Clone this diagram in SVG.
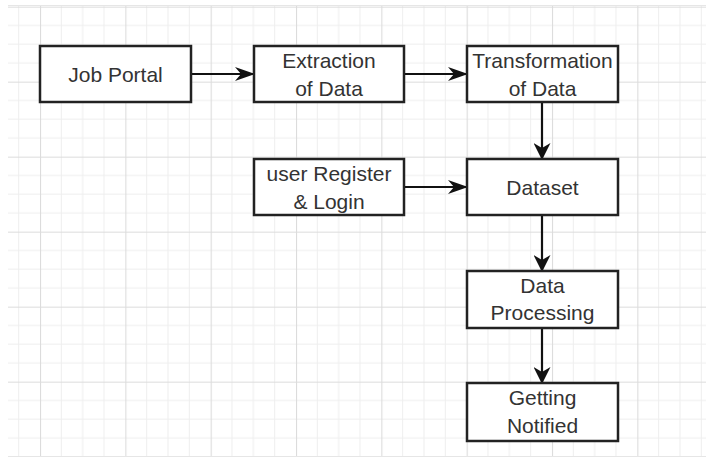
<svg xmlns="http://www.w3.org/2000/svg" width="706" height="458" viewBox="0 0 706 458">
  <defs>
    <pattern id="grid" patternUnits="userSpaceOnUse" x="40" y="6.67" width="85.33" height="75">
      <g stroke="#eeeeee" stroke-width="1" fill="none">
        <line x1="21.33" y1="0" x2="21.33" y2="75"/>
        <line x1="42.67" y1="0" x2="42.67" y2="75"/>
        <line x1="64" y1="0" x2="64" y2="75"/>
        <line x1="0" y1="18.75" x2="85.33" y2="18.75"/>
        <line x1="0" y1="37.5" x2="85.33" y2="37.5"/>
        <line x1="0" y1="56.25" x2="85.33" y2="56.25"/>
      </g>
      <g stroke="#dcdcdc" stroke-width="1.2" fill="none">
        <line x1="0.5" y1="0" x2="0.5" y2="75"/>
        <line x1="0" y1="0.5" x2="85.33" y2="0.5"/>
      </g>
    </pattern>
    <marker id="arrowH" markerUnits="userSpaceOnUse" markerWidth="20" markerHeight="14" refX="19" refY="7" orient="auto">
      <path d="M0,0 L20,7 L0,14 L6,7 z" fill="#111"/>
    </marker>
    <marker id="arrowV" markerUnits="userSpaceOnUse" markerWidth="17" markerHeight="17" refX="16" refY="8.5" orient="auto">
      <path d="M0,0 L17,8.5 L0,17 L5,8.5 z" fill="#111"/>
    </marker>
  </defs>
  <style>
    .box { fill: #ffffff; stroke: #222222; stroke-width: 2.5; }
    .lbl { font-family: "Liberation Sans", Arial, sans-serif; font-size: 21px; fill: #333333; text-anchor: middle; }
    .edge { stroke: #111111; stroke-width: 2.2; fill: none; }
  </style>
  <rect x="0" y="0" width="706" height="458" fill="#ffffff"/>
  <rect x="8" y="5" width="698" height="452" fill="url(#grid)"/>
  <line x1="8" y1="5.5" x2="706" y2="5.5" stroke="#e6e6e6" stroke-width="1"/>
  <line x1="8" y1="456.5" x2="706" y2="456.5" stroke="#e6e6e6" stroke-width="1"/>

  <g id="connectors">
    <line class="edge" x1="191" y1="74" x2="254" y2="74" marker-end="url(#arrowH)"/>
    <line class="edge" x1="404" y1="74" x2="467" y2="74" marker-end="url(#arrowH)"/>
    <line class="edge" x1="542" y1="102" x2="542" y2="159" marker-end="url(#arrowV)"/>
    <line class="edge" x1="404" y1="187" x2="467" y2="187" marker-end="url(#arrowH)"/>
    <line class="edge" x1="542" y1="215" x2="542" y2="271" marker-end="url(#arrowV)"/>
    <line class="edge" x1="542" y1="328" x2="542" y2="383" marker-end="url(#arrowV)"/>
  </g>

  <g id="job-portal">
    <rect class="box" x="40" y="46" width="151" height="56"/>
    <text class="lbl" x="115.5" y="81.5">Job Portal</text>
  </g>
  <g id="extraction">
    <rect class="box" x="254" y="46" width="150" height="56"/>
    <text class="lbl" x="329" y="68">Extraction</text>
    <text class="lbl" x="329" y="95.5">of Data</text>
  </g>
  <g id="transformation">
    <rect class="box" x="467" y="46" width="151" height="56"/>
    <text class="lbl" x="542.5" y="68">Transformation</text>
    <text class="lbl" x="542.5" y="95.5">of Data</text>
  </g>
  <g id="user-register">
    <rect class="box" x="254" y="159" width="150" height="56"/>
    <text class="lbl" x="329" y="181">user Register</text>
    <text class="lbl" x="329" y="208.5">&amp; Login</text>
  </g>
  <g id="dataset">
    <rect class="box" x="467" y="159" width="151" height="56"/>
    <text class="lbl" x="542.5" y="194.5">Dataset</text>
  </g>
  <g id="data-processing">
    <rect class="box" x="467" y="271" width="151" height="57"/>
    <text class="lbl" x="542.5" y="292.5">Data</text>
    <text class="lbl" x="542.5" y="320">Processing</text>
  </g>
  <g id="getting-notified">
    <rect class="box" x="467" y="383" width="151" height="58"/>
    <text class="lbl" x="542.5" y="405">Getting</text>
    <text class="lbl" x="542.5" y="433">Notified</text>
  </g>
</svg>
